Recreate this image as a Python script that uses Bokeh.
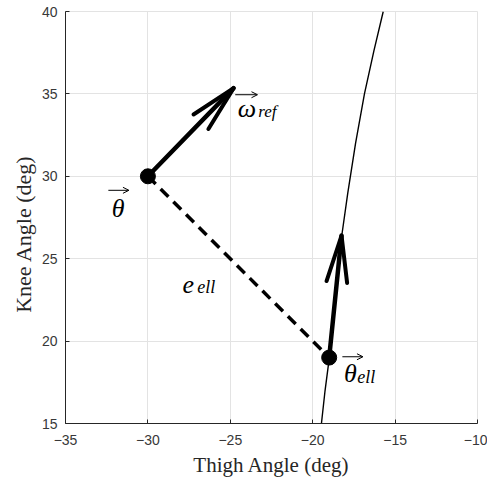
from bokeh.plotting import figure
from bokeh.models import Range1d, FixedTicker, Arrow, OpenHead
from bokeh.embed import file_html
from bokeh.resources import INLINE
from bokeh.core.properties import value
import numpy as np

# axes
x_ticks = [-35, -30, -25, -20, -15, -10]
y_ticks = [15, 20, 25, 30, 35, 40]

# reference trajectory in (thigh, knee) space
curve_x = [-19.47, -19.25, -18.98, -18.65, -18.25, -17.87, -17.40, -16.86, -16.29, -15.72]
curve_y = [15.0, 17.0, 19.07, 22.5, 26.3, 29.0, 32.0, 35.0, 37.6, 40.0]

# current state and its closest point on the trajectory
theta = (-30.0, 30.0)
theta_ell = (-19.0, 19.0)

# quiver vectors: origin and components
quiver_x = [-30.0, -19.0]
quiver_y = [30.0, 19.0]
quiver_u = [5.2, 0.75]
quiver_v = [5.35, 7.4]

FONT_TICK = "Liberation Sans"
FONT_SERIF = "Liberation Serif"
INK = "#262626"
GRID = "#e3e3e3"

p = figure(width=487, height=483, output_backend="svg", toolbar_location=None,
           x_range=Range1d(-35, -10), y_range=Range1d(15, 40),
           min_border_left=65, min_border_right=10, min_border_top=11,
           min_border_bottom=60)

p.background_fill_color = "white"
p.border_fill_color = "white"
p.outline_line_color = GRID

for ax, ticks in ((p.xaxis, x_ticks), (p.yaxis, y_ticks)):
    ax.ticker = FixedTicker(ticks=ticks)
    ax.axis_line_color = INK
    ax.axis_line_width = 1
    ax.major_tick_in = 4
    ax.major_tick_out = 0
    ax.minor_tick_line_color = None
    ax.major_tick_line_color = INK
    ax.major_label_text_font = FONT_TICK
    ax.major_label_text_font_size = "14px"
    ax.major_label_text_color = "#383838"
    ax.axis_label_text_font = FONT_SERIF
    ax.axis_label_text_font_style = "normal"
    ax.axis_label_text_color = INK

p.xaxis.axis_label = "Thigh Angle (deg)"
# trailing no-break spaces nudge the rotated label toward the bottom
p.yaxis.axis_label = "Knee Angle (deg)" + "\u00a0" * 6
p.xaxis.axis_label_text_font_size = "21px"
p.yaxis.axis_label_text_font_size = "22px"
p.xaxis.major_label_standoff = 11
p.yaxis.major_label_standoff = 8
p.xaxis.axis_label_standoff = 5
p.yaxis.axis_label_standoff = 3

p.xgrid.ticker = FixedTicker(ticks=x_ticks)
p.ygrid.ticker = FixedTicker(ticks=y_ticks)
p.grid.grid_line_color = GRID
p.grid.grid_line_width = 1

# trajectory
p.line(curve_x, curve_y, line_color="black", line_width=1.4)

# error segment between the state and the trajectory
p.line([theta[0], theta_ell[0]], [theta[1], theta_ell[1]], line_color="black",
       line_width=3.5, line_dash="11 7")

# quiver arrows with narrow open heads
head_frac = 0.39
head_ang = np.deg2rad(12.5)
for x0, y0, u, v in zip(quiver_x, quiver_y, quiver_u, quiver_v):
    tx, ty = x0 + u, y0 + v
    bx, by = -u * head_frac, -v * head_frac
    wings = []
    for s in (1, -1):
        c, sn = np.cos(s * head_ang), np.sin(s * head_ang)
        wings.append((tx + c * bx - sn * by, ty + sn * bx + c * by))
    p.line([x0, tx], [y0, ty], line_color="black", line_width=4.5, line_cap="round")
    p.line([wings[0][0], tx, wings[1][0]], [wings[0][1], ty, wings[1][1]],
           line_color="black", line_width=4, line_join="round", line_cap="round")

# state points
p.scatter([theta[0], theta_ell[0]], [theta[1], theta_ell[1]], size=15,
          fill_color="black", line_color="black")

# math labels
def math_label(x, y, txt, size):
    p.text([x], [y], text=[txt], text_font=value(FONT_SERIF), text_font_style="italic",
           text_font_size=size, text_color="black", text_align="left",
           text_baseline="alphabetic")

def over_arrow(x0, x1, y):
    p.add_layout(Arrow(end=OpenHead(size=6, line_width=1, line_color="black"),
                       x_start=x0, y_start=y, x_end=x1, y_end=y,
                       line_width=1, line_color="black"))

math_label(-32.2, 28.05, "θ", "26px")
over_arrow(-32.4, -31.15, 29.15)

math_label(-24.55, 34.12, "ω", "26px")
math_label(-23.3, 33.95, "ref", "17px")
over_arrow(-24.7, -23.35, 34.95)

math_label(-27.9, 23.45, "e", "26px")
math_label(-27.0, 23.3, "ell", "18px")

math_label(-18.1, 18.05, "θ", "26px")
math_label(-17.3, 17.85, "ell", "18px")
over_arrow(-18.2, -16.95, 19.05)

open("out.html", "w").write(file_html(p, INLINE))
